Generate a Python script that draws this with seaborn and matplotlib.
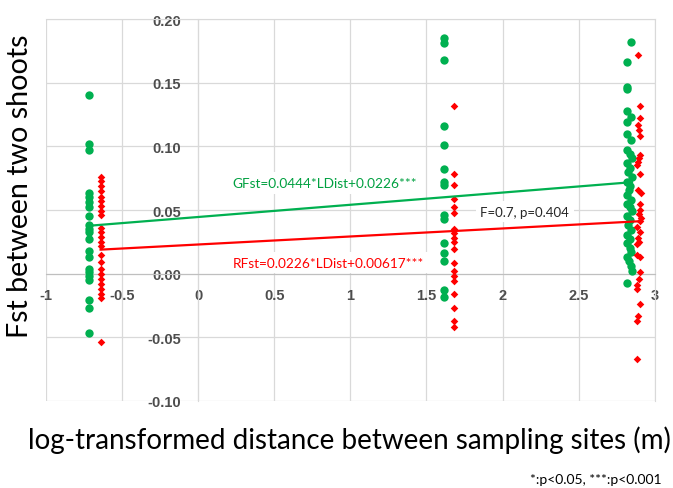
import numpy as np
import pandas as pd
import seaborn as sns
import matplotlib.pyplot as plt

# --- datos ---
# columna 1 (x ~ -0.7)
g1_x = -0.715
g1_fst = [0.140, 0.102, 0.097, 0.063, 0.060, 0.056, 0.052, 0.045, 0.038, 0.035,
          0.033, 0.027, 0.018, 0.013, 0.004, 0.001, -0.002, -0.005, -0.021, -0.027, -0.047]
r1_x = -0.64
r1_fst = [0.076, 0.073, 0.069, 0.065, 0.060, 0.057, 0.053, 0.049, 0.046, 0.036,
          0.033, 0.029, 0.025, 0.022, 0.015, 0.009, 0.004, 0.000, -0.004, -0.008,
          -0.012, -0.016, -0.019, -0.054]

# columna 2 (x ~ 1.6)
g2_x = 1.614
g2_fst = [0.185, 0.181, 0.168, 0.116, 0.101, 0.082, 0.072, 0.070, 0.046, 0.043,
          0.024, 0.016, 0.010, -0.013, -0.018]
r2_x = 1.678
r2_fst = [0.132, 0.078, 0.070, 0.059, 0.052, 0.048, 0.035, 0.032, 0.028, 0.025,
          0.019, 0.008, 0.002, -0.002, -0.006, -0.016, -0.027, -0.037, -0.042]

# columna 3 (x ~ 2.8-2.9)
g3_x = [2.845, 2.82, 2.82, 2.82, 2.82, 2.845, 2.815, 2.82, 2.845, 2.82,
        2.835, 2.85, 2.82, 2.84, 2.825, 2.85, 2.82, 2.84, 2.83, 2.82,
        2.845, 2.82, 2.835, 2.85, 2.82, 2.84, 2.825, 2.845, 2.82, 2.84,
        2.82, 2.835, 2.845, 2.82, 2.83, 2.845, 2.85, 2.82]
g3_fst = [0.182, 0.166, 0.147, 0.145, 0.128, 0.123, 0.119, 0.110, 0.105, 0.097,
          0.094, 0.091, 0.087, 0.083, 0.080, 0.076, 0.072, 0.069, 0.066, 0.062,
          0.058, 0.055, 0.052, 0.049, 0.045, 0.042, 0.038, 0.034, 0.030, 0.027,
          0.024, 0.020, 0.017, 0.013, 0.010, 0.006, 0.002, -0.007]
r3_x = [2.89, 2.905, 2.905, 2.89, 2.895, 2.905, 2.905, 2.895, 2.89, 2.885,
        2.905, 2.89, 2.91, 2.90, 2.905, 2.895, 2.91, 2.90, 2.885, 2.90,
        2.89, 2.895, 2.885, 2.885, 2.90, 2.905, 2.895, 2.885, 2.88, 2.905,
        2.89, 2.885, 2.885]
r3_fst = [0.172, 0.132, 0.122, 0.117, 0.113, 0.108, 0.093, 0.091, 0.088, 0.085,
          0.078, 0.066, 0.063, 0.055, 0.050, 0.047, 0.044, 0.041, 0.037, 0.033,
          0.028, 0.025, 0.023, 0.015, 0.013, 0.001, -0.004, -0.009, -0.012, -0.024,
          -0.033, -0.037, -0.067]

# lineas de tendencia (pendiente, ordenada)
g_fit = [0.0096, 0.0445]
r_fit = [0.0063, 0.0229]

x_ticks = [-1, -0.5, 0, 0.5, 1, 1.5, 2, 2.5, 3]
x_labels = ["-1", "-0.5", "0", "0.5", "1", "1.5", "2", "2.5", "3"]
y_ticks = [-0.10, -0.05, 0.00, 0.05, 0.10, 0.15, 0.20]

VERDE = "#00B050"
ROJO = "#FF0000"

green = pd.DataFrame({
    "x": [g1_x] * len(g1_fst) + [g2_x] * len(g2_fst) + g3_x,
    "fst": g1_fst + g2_fst + g3_fst,
})
red = pd.DataFrame({
    "x": [r1_x] * len(r1_fst) + [r2_x] * len(r2_fst) + r3_x,
    "fst": r1_fst + r2_fst + r3_fst,
})

plt.rcParams['font.family'] = ['Lato', 'DejaVu Sans']

fig, ax = plt.subplots(figsize=(6.73, 4.89), dpi=100)
fig.subplots_adjust(left=0.068, right=0.973, bottom=0.178, top=0.959)

sns.scatterplot(data=green, x="x", y="fst", color=VERDE, marker="o", s=36,
                linewidth=0, ax=ax, zorder=3)
sns.scatterplot(data=red, x="x", y="fst", color=ROJO, marker="D", s=15,
                linewidth=0, ax=ax, zorder=3)

# tendencias
for df, fit, col in [(green, g_fit, VERDE), (red, r_fit, ROJO)]:
    xs = np.array([df["x"].min(), df["x"].max()])
    sns.lineplot(x=xs, y=fit[1] + fit[0] * xs, color=col, linewidth=1.6, ax=ax, zorder=4)

ax.set_xlim(-1, 3)
ax.set_ylim(-0.10, 0.20)
ax.set_xticks(x_ticks)
ax.set_xticklabels(x_labels)
ax.set_yticks(y_ticks)
ax.set_yticklabels([f"{v:.2f}" for v in y_ticks])
ax.grid(True, color="#d9d9d9", linewidth=0.9)
ax.set_axisbelow(True)
for gl in ax.get_xgridlines() + ax.get_ygridlines():
    gl.set_clip_on(False)

# ejes cruzando en el origen, como en Excel
ax.spines['left'].set_position(('data', 0))
ax.spines['bottom'].set_position(('data', 0))
ax.spines['left'].set_color("#d9d9d9")
ax.spines['bottom'].set_color("#bfbfbf")
for s in ['top', 'right']:
    ax.spines[s].set_color("#d9d9d9")
ax.tick_params(axis='both', length=0, labelsize=10.5, labelcolor="#4d4d4d")
ax.tick_params(axis='x', pad=10)
ax.tick_params(axis='y', pad=12)
for lab in ax.get_xticklabels() + ax.get_yticklabels():
    lab.set_fontweight("bold")
    lab.set_family(["Liberation Sans", "DejaVu Sans"])
ax.set_xlabel("")
ax.set_ylabel("")

caja = dict(boxstyle="square,pad=0.35", fc="white", ec="none")
ax.text(0.224, 0.0713, "GFst=0.0444*LDist+0.0226***", color="#00A040", fontsize=9.8,
        va="center", ha="left", bbox=caja, zorder=6)
ax.text(0.230, 0.0086, "RFst=0.0226*LDist+0.00617***", color=ROJO, fontsize=9.8,
        va="center", ha="left", bbox=caja, zorder=6)
ax.text(1.855, 0.0486, "F=0.7, p=0.404", color="#262626", fontsize=9.5,
        va="center", ha="left", bbox=caja, zorder=6)

fig.text(20 / 673, 1 - 186 / 489, "Fst between two shoots", rotation=90,
         fontsize=20.6, ha="center", va="center")
fig.text(349 / 673, 1 - 440 / 489, "log-transformed distance between sampling sites (m)",
         fontsize=20, ha="center", va="center")
fig.text(662 / 673, 1 - 480 / 489, "*:p<0.05, ***:p<0.001", fontsize=10,
         ha="right", va="center")

plt.savefig("out.png", dpi=100)
